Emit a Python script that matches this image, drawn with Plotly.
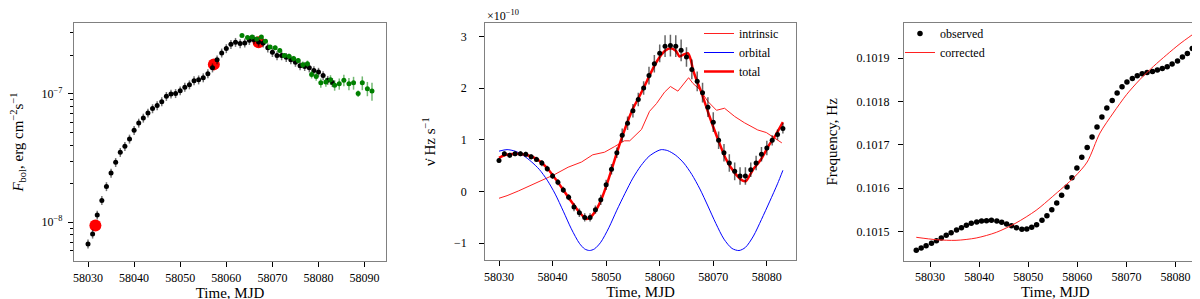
import plotly.graph_objects as go

# ---------------- Left panel: bolometric flux ----------------
flux_black_mjd = [58030, 58031, 58032, 58033, 58034, 58035, 58036, 58037, 58038, 58039,
                  58040, 58041, 58042, 58043, 58044, 58045, 58046, 58047, 58048, 58049,
                  58050, 58051, 58052, 58053, 58054, 58055, 58056, 58057, 58058, 58059,
                  58060, 58061, 58062, 58063, 58064, 58065, 58066, 58067, 58068, 58069,
                  58070, 58071, 58072, 58073, 58074, 58075, 58076, 58077, 58078, 58079,
                  58080, 58081, 58082, 58083]
flux_black = [6.78e-9, 8.11e-9, 1.14e-8, 1.48e-8, 1.90e-8, 2.42e-8, 2.93e-8, 3.51e-8, 3.91e-8, 4.46e-8,
              5.21e-8, 5.94e-8, 6.50e-8, 7.11e-8, 7.69e-8, 8.11e-8, 8.71e-8, 9.59e-8, 1.00e-7, 1.01e-7,
              1.06e-7, 1.13e-7, 1.18e-7, 1.27e-7, 1.29e-7, 1.34e-7, 1.44e-7, 1.60e-7, 1.85e-7, 2.09e-7,
              2.26e-7, 2.44e-7, 2.53e-7, 2.47e-7, 2.50e-7, 2.62e-7, 2.65e-7, 2.54e-7, 2.50e-7, 2.29e-7,
              2.11e-7, 1.99e-7, 1.99e-7, 1.93e-7, 1.85e-7, 1.77e-7, 1.66e-7, 1.64e-7, 1.60e-7, 1.52e-7,
              1.48e-7, 1.39e-7, 1.28e-7, 1.23e-7]
flux_black_relerr = 0.08

flux_green_mjd = [58063.4, 58064.6, 58065.6, 58066.6, 58067.6, 58068.5, 58069.5, 58070.6, 58071.6,
                  58072.6, 58073.6, 58074.6, 58075.6, 58076.6, 58077.6, 58078.5, 58079.5, 58080.5,
                  58081.6, 58082.6, 58083.5, 58084.5, 58085.5, 58086.6, 58087.6, 58088.6, 58089.5,
                  58090.6, 58091.6]
flux_green = [2.85e-7, 2.75e-7, 2.78e-7, 2.68e-7, 2.78e-7, 2.58e-7, 2.32e-7, 2.29e-7, 2.18e-7,
              1.99e-7, 1.97e-7, 1.89e-7, 1.82e-7, 1.69e-7, 1.72e-7, 1.42e-7, 1.37e-7, 1.22e-7,
              1.24e-7, 1.29e-7, 1.17e-7, 1.20e-7, 1.28e-7, 1.20e-7, 1.22e-7, 1.006e-7, 1.22e-7,
              1.10e-7, 1.055e-7]
flux_green_err = [0.06e-7, 0.06e-7, 0.06e-7, 0.06e-7, 0.07e-7, 0.07e-7, 0.08e-7, 0.08e-7, 0.09e-7,
                  0.09e-7, 0.09e-7, 0.09e-7, 0.09e-7, 0.10e-7, 0.10e-7, 0.10e-7, 0.10e-7, 0.10e-7,
                  0.10e-7, 0.11e-7, 0.11e-7, 0.12e-7, 0.13e-7, 0.13e-7, 0.14e-7, 0.06e-7, 0.15e-7,
                  0.14e-7, 0.17e-7]

flux_red_mjd = [58031.6, 58057.3, 58067.0]
flux_red = [9.42e-9, 1.70e-7, 2.53e-7]

# ---------------- Middle panel: nu-dot (units of 1e-10 Hz/s) ----------------
nudot_mjd = list(range(58030, 58084))
nudot_obs = [0.60, 0.73, 0.70, 0.73, 0.73, 0.72, 0.67, 0.62, 0.55, 0.44,
             0.30, 0.18, 0.03, -0.11, -0.30, -0.41, -0.50, -0.50, -0.35, -0.16,
             0.13, 0.43, 0.75, 1.09, 1.32, 1.56, 1.78, 2.00, 2.24, 2.47,
             2.67, 2.81, 2.82, 2.81, 2.73, 2.60, 2.36, 2.13, 1.91, 1.63,
             1.34, 0.99, 0.75, 0.55, 0.39, 0.30, 0.30, 0.42, 0.55, 0.72,
             0.84, 0.99, 1.10, 1.22]
nudot_err = [0.05, 0.05, 0.05, 0.05, 0.05, 0.05, 0.05, 0.05, 0.06, 0.06,
             0.06, 0.06, 0.06, 0.06, 0.08, 0.08, 0.08, 0.08, 0.08, 0.10,
             0.10, 0.10, 0.10, 0.13, 0.13, 0.13, 0.13, 0.13, 0.17, 0.17,
             0.17, 0.21, 0.21, 0.21, 0.21, 0.19, 0.19, 0.19, 0.19, 0.19,
             0.19, 0.17, 0.17, 0.17, 0.17, 0.17, 0.17, 0.14, 0.14, 0.14,
             0.14, 0.10, 0.10, 0.10]

intrinsic_mjd = [58030, 58031.5, 58033.6, 58035.5, 58037.9, 58040.4, 58042.9, 58045.4, 58047.5,
                 58049.7, 58051.6, 58053.4, 58054.4, 58056.6, 58058.1, 58059.4, 58060.9, 58062.0,
                 58063.4, 58065.4, 58066.2, 58067.5, 58069.0, 58070.6, 58072.1, 58074.0, 58075.8,
                 58077.1, 58078.3, 58079.9, 58081.4, 58082.8]
intrinsic_val = [-0.13, -0.08, 0.01, 0.10, 0.20, 0.33, 0.47, 0.57, 0.71,
                 0.76, 0.87, 0.98, 0.98, 1.20, 1.55, 1.70, 1.92, 2.03,
                 1.94, 2.20, 2.09, 1.97, 1.74, 1.57, 1.61, 1.45, 1.33,
                 1.25, 1.19, 1.14, 1.03, 0.94]

orbital_mjd = [58030.0, 58031.5, 58033.0, 58034.5, 58036.0, 58037.5, 58039.0, 58040.5, 58042.0,
               58043.5, 58045.0, 58046.0, 58046.9, 58047.8, 58049.0, 58050.5, 58052.0, 58053.5,
               58055.0, 58056.5, 58058.0, 58059.5, 58060.3, 58061.5, 58063.0, 58064.5, 58066.0,
               58067.5, 58069.0, 58070.5, 58072.0, 58073.5, 58074.8, 58076.0, 58077.5, 58079.0,
               58080.5, 58082.0, 58083.0]
orbital_val = [0.78, 0.81, 0.78, 0.70, 0.58, 0.43, 0.22, -0.05, -0.38,
               -0.72, -1.00, -1.11, -1.14, -1.11, -0.98, -0.70, -0.36, -0.04,
               0.26, 0.50, 0.68, 0.78, 0.81, 0.79, 0.70, 0.55, 0.33,
               0.05, -0.28, -0.62, -0.92, -1.10, -1.14, -1.08, -0.86, -0.54,
               -0.20, 0.15, 0.41]

total_mjd = [58030, 58031, 58032, 58033, 58035, 58037, 58039, 58041, 58043, 58045, 58046.3,
             58047, 58048, 58049, 58050, 58051, 58052, 58053, 58054, 58055, 58056, 58057,
             58058, 58059, 58060, 58061, 58062, 58063, 58063.7, 58064.5, 58065.3, 58065.8,
             58066.2, 58067, 58067.7, 58069.3, 58070.9, 58072.4, 58074.0, 58075.5, 58076.1,
             58077.4, 58078.9, 58080.5, 58081.7, 58083.0]
total_val = [0.65, 0.70, 0.72, 0.73, 0.71, 0.63, 0.45, 0.18, -0.12, -0.40, -0.53,
             -0.50, -0.38, -0.18, 0.10, 0.42, 0.75, 1.06, 1.35, 1.60, 1.80, 2.00,
             2.22, 2.43, 2.60, 2.72, 2.77, 2.72, 2.61, 2.65, 2.67, 2.55,
             2.36, 2.12, 1.94, 1.45, 1.00, 0.62, 0.36, 0.21, 0.20,
             0.42, 0.62, 0.91, 1.10, 1.34]

# ---------------- Right panel: frequency ----------------
freq_mjd = [58027.2, 58028.2, 58029.2, 58030.3, 58031.3, 58032.3, 58033.3, 58034.3, 58035.4, 58036.4,
            58037.4, 58038.4, 58039.5, 58040.5, 58041.5, 58042.5, 58043.6, 58044.6, 58045.6, 58046.6,
            58047.6, 58048.7, 58049.7, 58050.7, 58051.7, 58052.8, 58053.8, 58054.8, 58055.8, 58056.8,
            58057.9, 58058.9, 58059.9, 58060.9, 58062.0, 58063.0, 58064.0, 58065.0, 58066.0, 58067.1,
            58068.1, 58069.1, 58070.1, 58071.2, 58072.2, 58073.2, 58074.2, 58075.3, 58076.3, 58077.3,
            58078.3, 58079.3, 58080.4, 58081.4, 58082.4, 58083.4]
freq_obs = [0.1014561, 0.1014615, 0.1014669, 0.1014723, 0.1014784, 0.1014846, 0.1014907, 0.1014969,
            0.1015030, 0.1015084, 0.1015138, 0.1015184, 0.1015215, 0.1015238, 0.1015246, 0.1015254,
            0.1015238, 0.1015207, 0.1015169, 0.1015130, 0.1015084, 0.1015046, 0.1015054, 0.1015092,
            0.1015153, 0.1015254, 0.1015361, 0.1015500, 0.1015654, 0.1015831, 0.1016023, 0.1016238,
            0.1016461, 0.1016708, 0.1016938, 0.1017177, 0.1017408, 0.1017638, 0.1017846, 0.1018023,
            0.1018192, 0.1018338, 0.1018446, 0.1018531, 0.1018592, 0.1018638, 0.1018669, 0.1018692,
            0.1018723, 0.1018762, 0.1018800, 0.1018862, 0.1018931, 0.1019023, 0.1019108, 0.1019223]
freq_err = 2e-7

corr_mjd = [58027.2, 58031.3, 58035.3, 58039.4, 58043.5, 58047.5, 58051.6, 58055.0, 58059.4,
            58062.0, 58064.6, 58067.3, 58070.0, 58072.7, 58075.5, 58078.2, 58080.9, 58083.4]
corr_val = [0.1014862, 0.1014807, 0.1014792, 0.1014846, 0.1014977, 0.1015192, 0.1015485, 0.1015808,
            0.1016254, 0.1016600, 0.1017269, 0.1017731, 0.1018154, 0.1018500, 0.1018808, 0.1019077,
            0.1019331, 0.1019538]

FONT = "Liberation Serif"
W, H = 1200, 299

def px_x(a, b):
    return [a / W, b / W]

def px_y(top, bottom):
    return [(H - bottom) / H, (H - top) / H]

fig = go.Figure()

# Left panel traces
fig.add_trace(go.Scatter(x=flux_red_mjd, y=flux_red, mode="markers",
                         marker=dict(color="red", size=12), showlegend=False,
                         xaxis="x", yaxis="y"))
fig.add_trace(go.Scatter(x=flux_black_mjd, y=flux_black, mode="markers",
                         marker=dict(color="black", size=5),
                         error_y=dict(type="percent", value=flux_black_relerr * 100,
                                      color="rgba(0,0,0,0.55)", thickness=1.5, width=0),
                         showlegend=False, xaxis="x", yaxis="y"))
fig.add_trace(go.Scatter(x=flux_green_mjd, y=flux_green, mode="markers",
                         marker=dict(color="green", size=5),
                         error_y=dict(type="data", array=flux_green_err,
                                      color="rgba(0,128,0,0.55)", thickness=1.5, width=0),
                         showlegend=False, xaxis="x", yaxis="y"))

# Middle panel traces
fig.add_trace(go.Scatter(x=intrinsic_mjd, y=intrinsic_val, mode="lines", name="intrinsic",
                         line=dict(color="#ff2020", width=1), legend="legend",
                         xaxis="x2", yaxis="y2"))
fig.add_trace(go.Scatter(x=orbital_mjd, y=orbital_val, mode="lines", name="orbital",
                         line=dict(color="blue", width=1, shape="spline", smoothing=0.8),
                         legend="legend", xaxis="x2", yaxis="y2"))
fig.add_trace(go.Scatter(x=total_mjd, y=total_val, mode="lines", name="total",
                         line=dict(color="red", width=2.5, shape="spline", smoothing=0.6),
                         legend="legend", xaxis="x2", yaxis="y2"))
fig.add_trace(go.Scatter(x=nudot_mjd, y=nudot_obs, mode="markers",
                         marker=dict(color="black", size=5),
                         error_y=dict(type="data", array=nudot_err,
                                      color="rgba(0,0,0,0.6)", thickness=1.5, width=0),
                         showlegend=False, xaxis="x2", yaxis="y2"))

# Right panel traces
fig.add_trace(go.Scatter(x=freq_mjd, y=freq_obs, mode="markers", name="observed",
                         marker=dict(color="black", size=5.5),
                         error_y=dict(type="constant", value=freq_err,
                                      color="rgba(0,0,0,0.6)", thickness=1.5, width=0),
                         legend="legend2", xaxis="x3", yaxis="y3"))
fig.add_trace(go.Scatter(x=corr_mjd, y=corr_val, mode="lines", name="corrected",
                         line=dict(color="#ff2020", width=1, shape="spline", smoothing=0.8),
                         legend="legend2", xaxis="x3", yaxis="y3"))

axis_common = dict(showline=True, mirror=True, linecolor="#808080", linewidth=1.3,
                   ticks="outside", tickcolor="black", ticklen=5, tickwidth=1,
                   showgrid=False, zeroline=False,
                   tickfont=dict(family=FONT, size=12, color="black"),
                   automargin=False)
xtitle = dict(text="Time, MJD", font=dict(family=FONT, size=15, color="black"), standoff=0)

fig.update_layout(
    width=W, height=H,
    margin=dict(l=0, r=0, t=0, b=0),
    paper_bgcolor="white", plot_bgcolor="white",
    font=dict(family=FONT, color="black"),
    xaxis=dict(domain=px_x(66, 378), anchor="y", range=[58026.96, 58094.64],
               tickvals=[58030, 58040, 58050, 58060, 58070, 58080, 58090], tickformat="d",
               title=xtitle, **axis_common),
    yaxis=dict(domain=px_y(15, 253), anchor="x", type="log", range=[-8.302, -6.447],
               tickvals=[1e-8, 1e-7], ticktext=["10<sup>−8</sup>", "10<sup>−7</sup>"],
               ticklabelstandoff=3,
               minor=dict(ticks="outside", ticklen=3, tickcolor="black",
                          tickvals=[6e-9, 7e-9, 8e-9, 9e-9, 2e-8, 3e-8, 4e-8, 5e-8, 6e-8,
                                    7e-8, 8e-8, 9e-8, 2e-7, 3e-7]),
               title=dict(text="<i>F</i><sub>bol</sub>, erg cm<sup>−2</sup>s<sup>−1</sup>",
                          font=dict(family=FONT, size=15, color="black"), standoff=15),
               **axis_common),
    xaxis2=dict(domain=px_x(477.3, 787.7), anchor="y2", range=[58027.44, 58085.39],
                tickvals=[58030, 58040, 58050, 58060, 58070, 58080], tickformat="d",
                title=xtitle, **axis_common),
    yaxis2=dict(domain=px_y(15, 252.3), anchor="x2", range=[-1.329, 3.257],
                tickvals=[-1, 0, 1, 2, 3], ticklabelstandoff=10,
                title=dict(text="ν\u0307 Hz s<sup>−1</sup>",
                           font=dict(family=FONT, size=15, color="black"), standoff=14),
                **axis_common),
    xaxis3=dict(domain=px_x(896, 1198.5), anchor="y3", range=[58024.7, 58086.3],
                tickvals=[58030, 58040, 58050, 58060, 58070, 58080], tickformat="d",
                title=xtitle, **axis_common),
    yaxis3=dict(domain=px_y(15, 252.7), anchor="x3", range=[0.1014322, 0.101981],
                tickvals=[0.1015, 0.1016, 0.1017, 0.1018, 0.1019], tickformat=".4f",
                ticklabelstandoff=6,
                title=dict(text="Frequency, Hz", font=dict(family=FONT, size=15, color="black"),
                           standoff=15),
                **axis_common),
    legend=dict(x=691 / W, y=(H - 11) / H, xanchor="left", yanchor="top",
                bgcolor="rgba(255,255,255,0)", font=dict(family=FONT, size=12, color="black"),
                tracegroupgap=0, itemwidth=30),
    legend2=dict(x=892 / W, y=(H - 11) / H, xanchor="left", yanchor="top",
                 bgcolor="rgba(255,255,255,0)", font=dict(family=FONT, size=12, color="black"),
                 tracegroupgap=0, itemwidth=30),
    annotations=[dict(text="×10<sup>−10</sup>", xref="paper", yref="paper",
                      x=477 / W, y=(H - 8) / H, xanchor="left", yanchor="middle",
                      showarrow=False, font=dict(family=FONT, size=12, color="black"))],
)

fig.write_html("out.html")
